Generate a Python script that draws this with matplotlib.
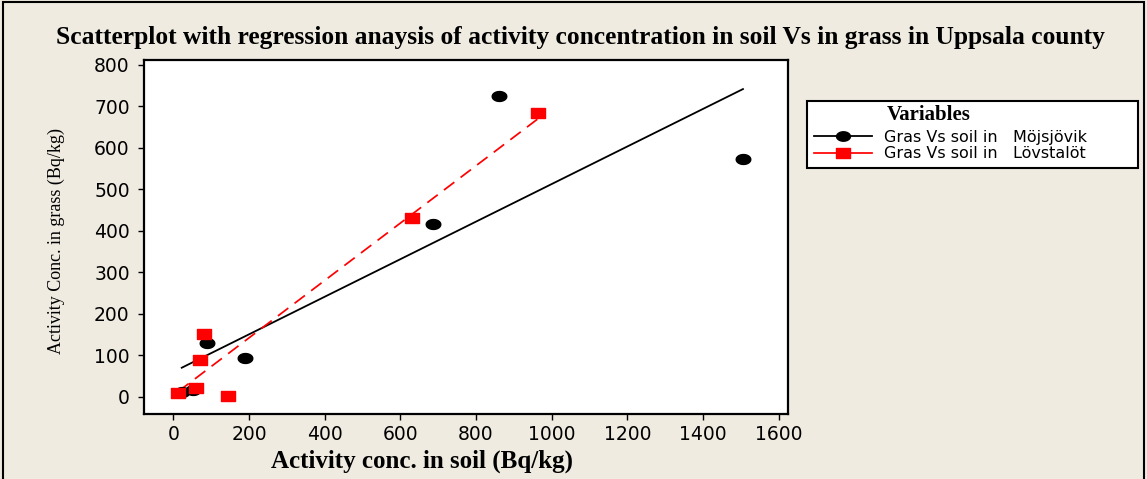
import numpy as np
import matplotlib
matplotlib.use("Agg")
import matplotlib.pyplot as plt
from matplotlib.path import Path
from matplotlib.patches import Rectangle

# soil vs grass activity concentrations (Bq/kg), two sites
moj_soil = [22, 52, 90, 189, 687, 861, 1506]
moj_grass = [10, 16, 129, 93, 416, 725, 572]
lov_soil = [13, 60, 70, 81, 144, 632, 963]
lov_grass = [8, 20, 88, 151, 2, 430, 683]

moj_label = "Gras Vs soil in   Möjsjövik"
lov_label = "Gras Vs soil in   Lövstalöt"

x_ticks = [0, 200, 400, 600, 800, 1000, 1200, 1400, 1600]
y_ticks = [0, 100, 200, 300, 400, 500, 600, 700, 800]

BG = "#efebe1"
SERIF = "Liberation Serif"

# flattened markers: wide ellipse and wide rectangle
t = np.linspace(0, 2 * np.pi, 40)
ellipse = Path(np.column_stack([np.cos(t), 0.68 * np.sin(t)]), closed=True)
rect = Path([(-1, -0.68), (1, -0.68), (1, 0.68), (-1, 0.68), (-1, -0.68)], closed=True)

fig = plt.figure(figsize=(11.47, 4.79), dpi=100, facecolor=BG)
ax = fig.add_axes([0.1258, 0.1357, 0.5612, 0.739])
ax.set_facecolor("white")

def fit_line(x, y):
    x = np.asarray(x, float)
    y = np.asarray(y, float)
    b, a = np.polyfit(x, y, 1)
    xs = np.array([x.min(), x.max()])
    return xs, a + b * xs

xs, ys = fit_line(moj_soil, moj_grass)
ax.plot(xs, ys, color="black", lw=1.3, zorder=2)
xs, ys = fit_line(lov_soil, lov_grass)
ax.plot(xs, ys, color="red", lw=1.25, dashes=(7.5, 4.5), zorder=2)

ax.plot(moj_soil, moj_grass, ls="none", marker=ellipse, ms=10.5,
        color="black", zorder=3)
ax.plot(lov_soil, lov_grass, ls="none", marker=rect, ms=10.5,
        color="red", zorder=4)

ax.set_xlim(-77, 1625)
ax.set_ylim(-42, 812)
ax.set_xticks(x_ticks)
ax.set_yticks(y_ticks)
ax.tick_params(direction="out", length=4.5, width=1, labelsize=13.5,
               colors="black")
ax.tick_params(axis="y", pad=6)
ax.tick_params(axis="x", pad=3.5)
for s in ax.spines.values():
    s.set_linewidth(1.6)

# legend handles carrying the line + marker look; the heading is placed
# separately so it lines up with the entry labels
h1, = ax.plot([], [], color="black", lw=1.3, marker=ellipse, ms=10)
h2, = ax.plot([], [], color="red", lw=1.25, marker=rect, ms=10)
leg = fig.legend([h1, h2], [moj_label, lov_label],
                 title=" ", loc="upper left",
                 bbox_to_anchor=(0.7036, 0.5, 0.2886, 0.289),
                 mode="expand", borderaxespad=0, fancybox=False,
                 frameon=True, edgecolor="black", framealpha=1,
                 fontsize=11.5, handlelength=3.6, handletextpad=0.75,
                 labelspacing=0.1, borderpad=0.45, alignment="left")
leg.get_frame().set_linewidth(1.5)
leg.get_title().set_fontsize(15)
leg._legend_box.sep = 1
fig.text(887 / 1147, 1 - 115 / 479, "Variables", ha="left", va="center",
         fontsize=15, fontweight="bold", family=SERIF, zorder=10)

fig.text(0.5057, 0.9207,
         "Scatterplot with regression anaysis of activity concentration in soil Vs in grass in Uppsala county",
         ha="center", va="center", fontsize=18.4, fontweight="bold", family=SERIF)
fig.text(0.3675, 0.038, "Activity conc. in soil (Bq/kg)", ha="center",
         va="center", fontsize=18, fontweight="bold", family=SERIF)
fig.text(0.049, 0.497, "Activity Conc. in grass (Bq/kg)", ha="center",
         va="center", rotation=90, fontsize=13, family=SERIF)

# outer frame of the figure
fig.patches.append(Rectangle((0.003, -0.01), 0.994, 1.006, transform=fig.transFigure,
                             fill=False, edgecolor="black", lw=1.5))

fig.savefig("out.png", dpi=100, facecolor=BG)
